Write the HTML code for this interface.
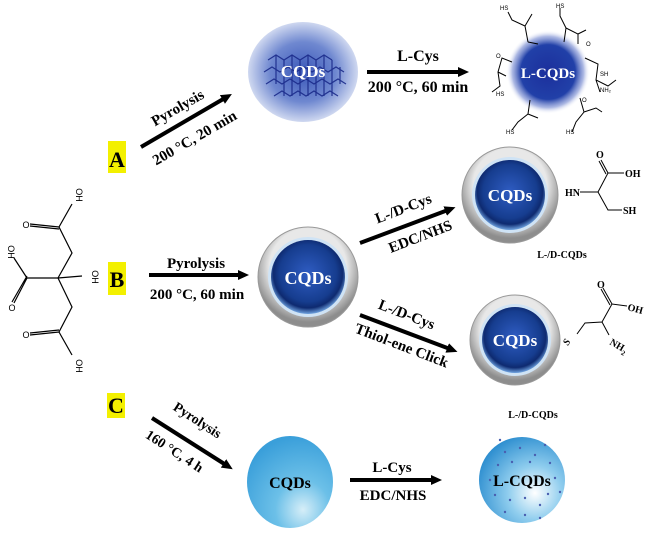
<!DOCTYPE html>
<html><head><meta charset="utf-8"><style>
html,body{margin:0;padding:0;background:#fff;}
svg{display:block;font-family:"Liberation Serif",serif;font-weight:bold;}
</style></head><body>
<svg width="650" height="536" viewBox="0 0 650 536" xmlns="http://www.w3.org/2000/svg">
<defs>
<marker id="ah" markerWidth="11" markerHeight="10" refX="3" refY="5" orient="auto" markerUnits="userSpaceOnUse"><path d="M0,0 L11,5 L0,10 Z" fill="#000"/></marker>
<radialGradient id="g1" cx="50%" cy="50%" r="50%"><stop offset="0" stop-color="#3a57b8"/><stop offset="0.6" stop-color="#6f88d0"/><stop offset="1" stop-color="#cfd8f0"/></radialGradient>
<radialGradient id="g2" cx="50%" cy="50%" r="50%"><stop offset="0" stop-color="#1c2f9c"/><stop offset="0.65" stop-color="#2140a8"/><stop offset="0.85" stop-color="#8a9bd8" stop-opacity="0.7"/><stop offset="1" stop-color="#fff" stop-opacity="0"/></radialGradient>
<radialGradient id="ring" cx="50%" cy="40%" r="55%"><stop offset="0.7" stop-color="#e8e8e8"/><stop offset="1" stop-color="#8d8d8d"/></radialGradient>
<radialGradient id="core" cx="50%" cy="45%" r="55%"><stop offset="0" stop-color="#2f5cc2"/><stop offset="0.7" stop-color="#163d8f"/><stop offset="0.85" stop-color="#0e2a70"/><stop offset="1" stop-color="#6fa3e0"/></radialGradient>
<radialGradient id="lb" cx="65%" cy="80%" r="80%"><stop offset="0" stop-color="#d6eef8"/><stop offset="0.4" stop-color="#6cc0e8"/><stop offset="1" stop-color="#3a9fda"/></radialGradient>
<radialGradient id="lb2" cx="65%" cy="65%" r="70%"><stop offset="0" stop-color="#ffffff"/><stop offset="0.45" stop-color="#8fcdee"/><stop offset="1" stop-color="#2f8fd0"/></radialGradient>
</defs>

<rect x="108" y="141" width="18" height="32" fill="#f3f000"/><text x="117" y="167" font-size="22" text-anchor="middle">A</text>
<rect x="108" y="262" width="18" height="33" fill="#f3f000"/><text x="117" y="287" font-size="22" text-anchor="middle">B</text>
<rect x="107" y="393" width="18" height="25" fill="#f3f000"/><text x="116" y="413" font-size="22" text-anchor="middle">C</text>

<g stroke="#000" stroke-width="1.2" fill="none">
<path d="M58,278 L72,253 L59,227 L72,204 M59,227 L30,224 M59,229 L30,226"/>
<path d="M58,278 L27,278 L14,303 M27,276 L12,302 M27,278 L14,258"/>
<path d="M58,278 L72,307 L59,332 L72,355 M59,332 L30,335 M59,330 L30,333"/>
<path d="M58,278 L82,276"/>
</g>
<g font-family="Liberation Sans,sans-serif" font-weight="normal" font-size="9">
<text x="26" y="228" text-anchor="middle">O</text>
<text x="26" y="338" text-anchor="middle">O</text>
<text x="12" y="311" text-anchor="middle">O</text>
<text transform="translate(76,195) rotate(90)" text-anchor="middle">OH</text>
<text transform="translate(8,252) rotate(90)" text-anchor="middle">OH</text>
<text transform="translate(92,277) rotate(90)" text-anchor="middle">OH</text>
<text transform="translate(76,366) rotate(90)" text-anchor="middle">OH</text>
</g>

<line x1="141" y1="147" x2="225" y2="98" stroke="#000" stroke-width="4" marker-end="url(#ah)"/>
<text transform="translate(180,112) rotate(-30)" font-size="15" text-anchor="middle">Pyrolysis</text>
<text transform="translate(197,142) rotate(-30)" font-size="15" text-anchor="middle">200 °C, 20 min</text>

<ellipse cx="303" cy="72" rx="55" ry="50" fill="url(#g1)"/>
<g stroke="#1a2a8a" stroke-width="1.2" fill="none" opacity="0.9">
<path d="M268,60 l8,-5 8,5 8,-5 8,5 8,-5 8,5 8,-5 8,5 M264,72 l8,-5 8,5 8,-5 8,5 8,-5 8,5 8,-5 8,5 8,-5 8,5 M266,84 l8,-5 8,5 8,-5 8,5 8,-5 8,5 8,-5 8,5 8,-5 8,5 M274,96 l8,-5 8,5 8,-5 8,5 8,-5 8,5 8,-5 8,5"/>
<path d="M276,55v29 M292,55v41 M308,55v41 M324,55v41 M340,67v17 M284,60v36 M300,60v36 M316,60v36 M332,60v36"/>
</g>
<text x="303" y="77" font-size="17" fill="#fff" text-anchor="middle">CQDs</text>

<line x1="367" y1="72" x2="461" y2="72" stroke="#000" stroke-width="4" marker-end="url(#ah)"/>
<text x="418" y="61" font-size="16" text-anchor="middle">L-Cys</text>
<text x="418" y="92" font-size="16" text-anchor="middle">200 °C, 60 min</text>

<circle cx="548" cy="72" r="42" fill="url(#g2)"/>
<g stroke="#000" stroke-width="1" fill="none">
<path d="M528,42 L525,26 L512,20 L508,12 M525,26 L532,14 M528,42 L538,44"/>
<path d="M564,42 L566,28 L560,16 L560,8 M566,28 L578,34 L578,44 M578,34 L586,30"/>
<path d="M585,58 L598,64 L596,80 L608,86 L616,80 M596,80 L600,92"/>
<path d="M580,98 L584,112 L576,122 L572,132 M584,112 L596,108 L602,112"/>
<path d="M530,100 L528,114 L518,122 L512,130 M528,114 L538,118"/>
<path d="M512,62 L502,58 L498,72 L500,86 L492,92 M498,72 L506,76"/>
</g>
<g font-family="Liberation Sans,sans-serif" font-weight="normal" font-size="6">
<text x="600" y="76">SH</text><text x="600" y="92">NH₂</text><text x="500" y="10">HS</text><text x="556" y="8">HS</text><text x="496" y="96">HS</text><text x="506" y="134">HS</text><text x="566" y="134">HS</text><text x="586" y="46">O</text><text x="582" y="102">O</text><text x="496" y="58">O</text>
</g>
<text x="548" y="78" font-size="15" fill="#fff" text-anchor="middle">L-CQDs</text>

<line x1="149" y1="275" x2="241" y2="275" stroke="#000" stroke-width="4" marker-end="url(#ah)"/>
<text x="196" y="268" font-size="15" text-anchor="middle">Pyrolysis</text>
<text x="197" y="299" font-size="15" text-anchor="middle">200  °C, 60 min</text>

<g>
<circle cx="308" cy="277" r="50" fill="url(#ring)" stroke="#999" stroke-width="1"/>
<circle cx="308" cy="277" r="40" fill="#cfe3f5"/>
<circle cx="308" cy="277" r="37" fill="url(#core)"/>
<text x="308" y="284" font-size="18" fill="#fff" text-anchor="middle">CQDs</text>
</g>
<g>
<circle cx="510" cy="195" r="48" fill="url(#ring)" stroke="#999" stroke-width="1"/>
<circle cx="510" cy="195" r="38" fill="#cfe3f5"/>
<circle cx="510" cy="195" r="35" fill="url(#core)"/>
<text x="510" y="201" font-size="17" fill="#fff" text-anchor="middle">CQDs</text>
</g>
<g>
<circle cx="515" cy="340" r="45" fill="url(#ring)" stroke="#999" stroke-width="1"/>
<circle cx="515" cy="340" r="36" fill="#cfe3f5"/>
<circle cx="515" cy="340" r="33" fill="url(#core)"/>
<text x="515" y="346" font-size="17" fill="#fff" text-anchor="middle">CQDs</text>
</g>

<line x1="360" y1="243" x2="448" y2="210" stroke="#000" stroke-width="4" marker-end="url(#ah)"/>
<text transform="translate(405,213) rotate(-21)" font-size="15" text-anchor="middle">L-/D-Cys</text>
<text transform="translate(422,241) rotate(-21)" font-size="15" text-anchor="middle">EDC/NHS</text>
<line x1="360" y1="315" x2="450" y2="349" stroke="#000" stroke-width="4" marker-end="url(#ah)"/>
<text transform="translate(405,319) rotate(21)" font-size="15" text-anchor="middle">L-/D-Cys</text>
<text transform="translate(400,350) rotate(21)" font-size="15" text-anchor="middle">Thiol-ene Click</text>

<g stroke="#000" stroke-width="1" fill="none">
<path d="M580,192 L598,192 L608,173 L624,173 M608,173 L601,160 M606,174 L599,161 M598,192 L608,210 L622,210"/>
<path d="M577,334 L585,323 L602,322 L612,304 L627,306 M612,304 L603,288 M610,305 L601,289 M602,322 L609,335"/>
</g>
<g font-size="10">
<text x="565" y="196">HN</text><text x="596" y="158">O</text><text x="625" y="177">OH</text><text x="623" y="214">SH</text>
<text x="597" y="288">O</text><text transform="translate(627,310) rotate(15)">OH</text>
<text transform="translate(568,346) rotate(-60)" font-style="italic">S</text>
<text transform="translate(609,344) rotate(30)">NH<tspan font-size="7" dy="3">2</tspan></text>
</g>
<text x="562" y="258" font-size="10" text-anchor="middle">L-/D-CQDs</text>
<text x="533" y="418" font-size="10" text-anchor="middle">L-/D-CQDs</text>

<line x1="152" y1="418" x2="226" y2="465" stroke="#000" stroke-width="4" marker-end="url(#ah)"/>
<text transform="translate(195,424) rotate(33)" font-size="14" text-anchor="middle">Pyrolysis</text>
<text transform="translate(172,455) rotate(33)" font-size="14" text-anchor="middle">160 °C, 4 h</text>

<ellipse cx="290" cy="482" rx="43" ry="46" fill="url(#lb)"/>
<text x="290" y="488" font-size="16" text-anchor="middle">CQDs</text>

<line x1="350" y1="480" x2="434" y2="480" stroke="#000" stroke-width="4" marker-end="url(#ah)"/>
<text x="392" y="472" font-size="15" text-anchor="middle">L-Cys</text>
<text x="393" y="500" font-size="15" text-anchor="middle">EDC/NHS</text>

<circle cx="522" cy="480" r="43" fill="url(#lb2)"/>
<g fill="#4a5fb0">
<circle cx="505" cy="452" r="1.2"/><circle cx="520" cy="448" r="1.2"/><circle cx="535" cy="455" r="1.2"/><circle cx="545" cy="445" r="1.2"/><circle cx="498" cy="465" r="1.2"/><circle cx="512" cy="462" r="1.2"/><circle cx="550" cy="463" r="1.2"/><circle cx="490" cy="480" r="1.2"/><circle cx="555" cy="478" r="1.2"/><circle cx="495" cy="495" r="1.2"/><circle cx="510" cy="500" r="1.2"/><circle cx="525" cy="498" r="1.2"/><circle cx="540" cy="505" r="1.2"/><circle cx="505" cy="512" r="1.2"/><circle cx="525" cy="515" r="1.2"/><circle cx="548" cy="494" r="1.2"/><circle cx="530" cy="462" r="1.2"/><circle cx="560" cy="492" r="1.2"/><circle cx="500" cy="440" r="1.2"/><circle cx="540" cy="518" r="1.2"/>
</g>
<text x="522" y="486" font-size="16" text-anchor="middle">L-CQDs</text>
</svg>
</body></html>
